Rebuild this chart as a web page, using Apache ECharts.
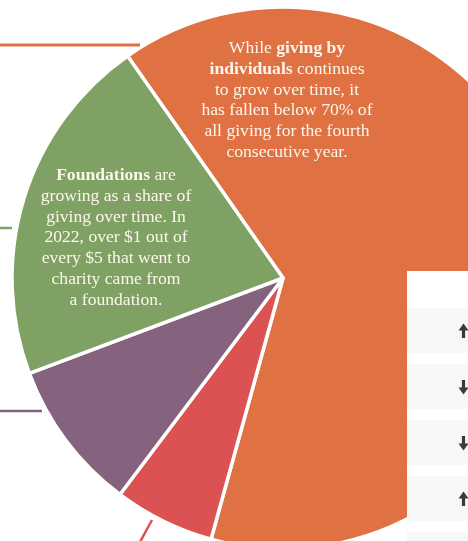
<!DOCTYPE html>
<html>
<head>
<meta charset="utf-8">
<script src="https://cdn.jsdelivr.net/npm/echarts@6/dist/echarts.min.js"></script>
<style>
html,body{margin:0;padding:0;background:#fff;}
#chart{width:468px;height:541px;}
</style>
</head>
<body>
<div id="chart"></div>
<script>
// Data
const categories = ['Individuals', 'Corporations', 'Bequests', 'Foundations'];
const shares = [64, 6, 9, 21];
const sliceColors = ['#E07142', '#DC5151', '#85627E', '#7FA264'];
const tableArrows = ['up', 'down', 'down', 'up'];

const chart = echarts.init(document.getElementById('chart'), null, {renderer: 'canvas'});

const serif = '"Liberation Serif", "DejaVu Serif", serif';
const txtColor = '#FDF6EC';
const fs = 17.6;
const richStyles = {
  n: {fontFamily: serif, fontSize: fs, fill: txtColor, color: txtColor, align: 'center', lineHeight: 20.8},
  b: {fontFamily: serif, fontSize: fs, fontWeight: 'bold', fill: txtColor, color: txtColor, align: 'center', lineHeight: 20.8}
};

const graphics = [];
// annotation leader lines
graphics.push({type: 'line', z: 50, shape: {x1: 0, y1: 45, x2: 140, y2: 45}, style: {stroke: sliceColors[0], lineWidth: 3}});
graphics.push({type: 'line', z: 50, shape: {x1: 0, y1: 228, x2: 12, y2: 228}, style: {stroke: sliceColors[3], lineWidth: 2.5}});
graphics.push({type: 'line', z: 50, shape: {x1: 0, y1: 411, x2: 42, y2: 411}, style: {stroke: sliceColors[2], lineWidth: 2.5}});
graphics.push({type: 'line', z: 50, shape: {x1: 152, y1: 520, x2: 140, y2: 542}, style: {stroke: sliceColors[1], lineWidth: 2.5}});

// texts
graphics.push({
  type: 'text', z: 60, x: 287, y: 38,
  style: {
    text: '{n|While }{b|giving by}\n{b|individuals}{n| continues}\n{n|to grow over time, it}\n{n|has fallen below 70% of}\n{n|all giving for the fourth}\n{n|consecutive year.}',
    align: 'center', verticalAlign: 'top', rich: richStyles,
    font: fs + 'px ' + serif, fill: txtColor
  }
});
graphics.push({
  type: 'text', z: 60, x: 116, y: 165,
  style: {
    text: '{b|Foundations}{n| are}\n{n|growing as a share of}\n{n|giving over time. In}\n{n|2022, over $1 out of}\n{n|every $5 that went to}\n{n|charity came from}\n{n|a foundation.}',
    align: 'center', verticalAlign: 'top', rich: richStyles,
    font: fs + 'px ' + serif, fill: txtColor
  }
});

// right side table box (cropped)
graphics.push({type: 'rect', z: 70, shape: {x: 407, y: 271, width: 70, height: 280}, style: {fill: '#FFFFFF'}});
tableArrows.concat(['none']).forEach(function (dir, i) {
  const top = 308 + i * 56;
  graphics.push({type: 'rect', z: 71, shape: {x: 407, y: top, width: 70, height: 45}, style: {fill: '#F7F7F7'}});
  if (dir === 'none') return;
  const cx = 463.5, cy = top + 23;
  const s = dir === 'up' ? -1 : 1;
  graphics.push({
    type: 'polygon', z: 72,
    shape: {points: [
      [cx, cy + s * 7.5], [cx - 5, cy + s * 0.5], [cx - 1.6, cy + s * 0.5], [cx - 1.6, cy - s * 7],
      [cx + 1.6, cy - s * 7], [cx + 1.6, cy + s * 0.5], [cx + 5, cy + s * 0.5]
    ]},
    style: {fill: '#3A3A3A'}
  });
});

chart.setOption({
  animation: false,
  backgroundColor: '#FFFFFF',
  series: [{
    type: 'pie',
    center: [283, 278],
    radius: 271,
    startAngle: 125,
    clockwise: true,
    silent: true,
    label: {show: false},
    labelLine: {show: false},
    itemStyle: {borderColor: '#FFFFFF', borderWidth: 3.5},
    data: categories.map(function (c, i) {
      return {name: c, value: shares[i], itemStyle: {color: sliceColors[i]}};
    })
  }],
  graphic: graphics
});
</script>
</body>
</html>
